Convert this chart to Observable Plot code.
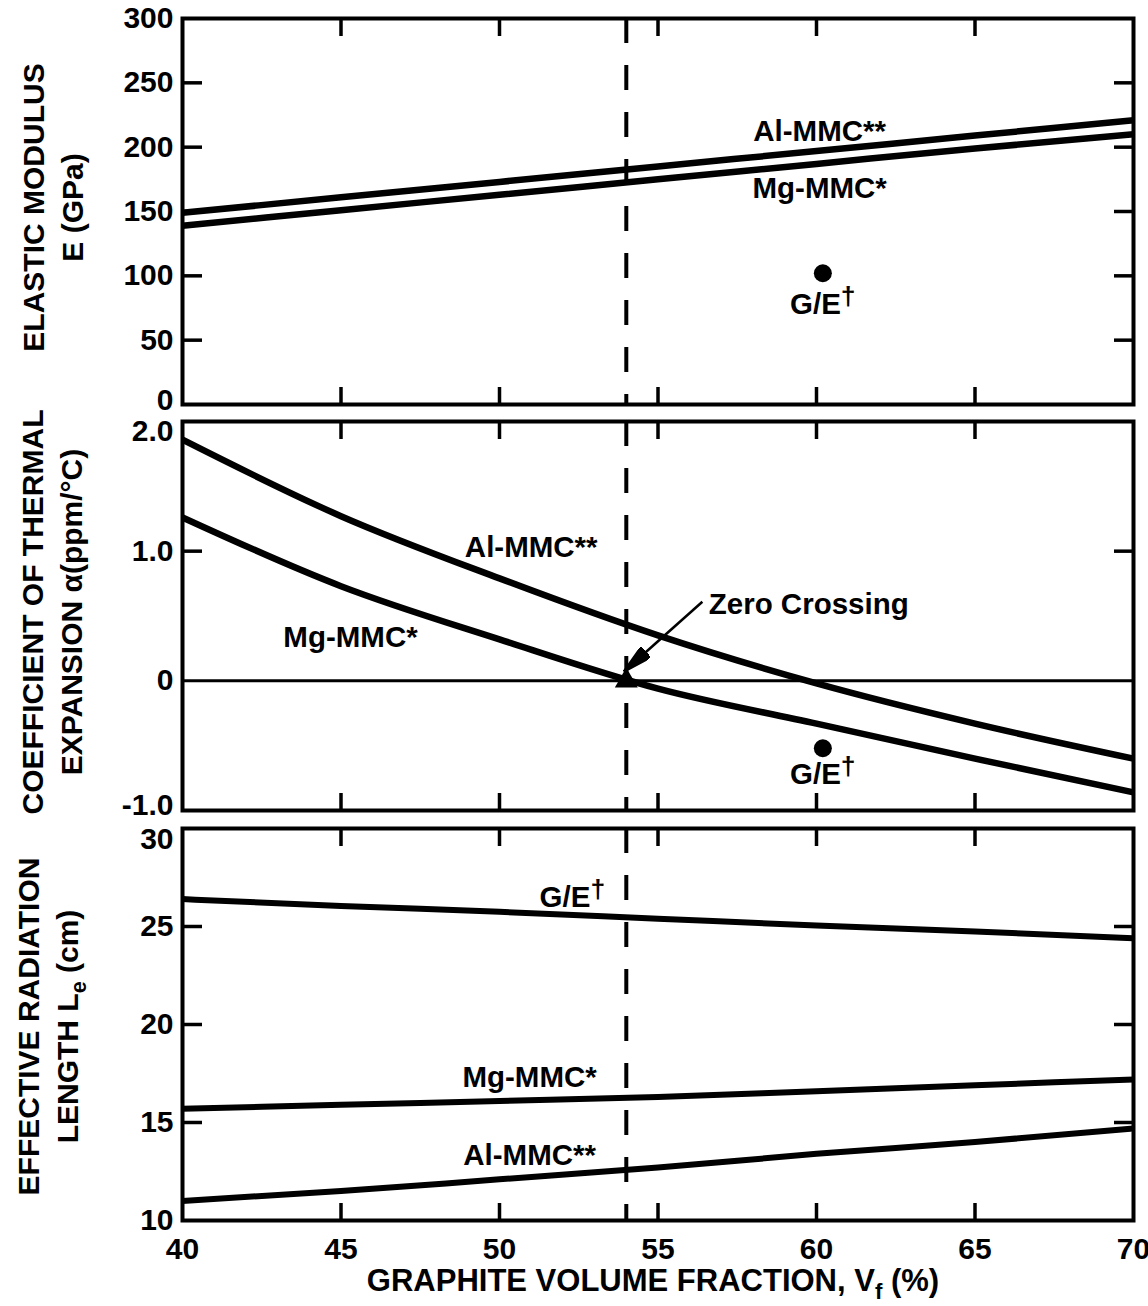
<!DOCTYPE html>
<html><head><meta charset="utf-8">
<script src="https://cdn.jsdelivr.net/npm/d3@7"></script>
<script src="https://cdn.jsdelivr.net/npm/@observablehq/plot@0.6"></script>
<style>
html,body{margin:0;padding:0;background:#fff;overflow:hidden}
#chart svg{display:block}
</style></head><body><div id="chart"></div>
<script>
// ---------- data ----------
const vf = [40, 45, 50, 55, 60, 65, 70];
const modulusAl = [149, 161, 173, 185, 197, 209, 221];
const modulusMg = [139, 151, 163, 175, 187, 199, 210];
const cteAl = [1.86, 1.27, 0.79, 0.35, -0.02, -0.33, -0.60];
const cteMg = [1.26, 0.73, 0.32, -0.06, -0.33, -0.60, -0.86];
const lengthGE = [26.4, 26.05, 25.75, 25.4, 25.05, 24.75, 24.4];
const lengthMg = [15.7, 15.9, 16.1, 16.3, 16.6, 16.9, 17.2];
const lengthAl = [11.0, 11.5, 12.1, 12.7, 13.4, 14.0, 14.7];
const gePoint = [{vf: 60.2, modulus: 102, cte: -0.52}];
const zeroCrossing = [{vf: 54, cte: 0}];
const designVf = [54];

const xTickLabels = [40, 45, 50, 55, 60, 65, 70];
const xInnerTicks = [45, 50, 55, 60, 65];
const modulusTicks = [0, 50, 100, 150, 200, 250, 300];
const cteTicks = [-1, 0, 1, 2];
const lengthTicks = [10, 15, 20, 25, 30];

const titleModulus = "ELASTIC MODULUS\nE (GPa)";
const titleCte = "COEFFICIENT OF THERMAL\nEXPANSION α(ppm/°C)";
const titleLength = "EFFECTIVE RADIATION\nLENGTH L_{e} (cm)";
const titleX = "GRAPHITE VOLUME FRACTION, V_{f} (%)";

// annotations (data coordinates)
const notesModulus = [
  {vf: 60.1, v: 212, text: "Al-MMC**"},
  {vf: 60.1, v: 168, text: "Mg-MMC*"},
  {vf: 60.2, v: 78, text: "G/E^{†}"}
];
const notesCte = [
  {vf: 51.0, v: 1.03, text: "Al-MMC**"},
  {vf: 45.3, v: 0.33, text: "Mg-MMC*"},
  {vf: 60.2, v: -0.72, text: "G/E^{†}"}
];
const noteZero = [{vf: 56.6, v: 0.59, text: "Zero Crossing"}];
const arrowZero = [{x1: 56.4, y1: 0.61, x2: 53.92, y2: 0.07}];
const notesLength = [
  {vf: 52.3, v: 26.5, text: "G/E^{†}"},
  {vf: 50.95, v: 17.3, text: "Mg-MMC*"},
  {vf: 50.95, v: 13.3, text: "Al-MMC**"}
];

// ---------- helpers ----------
const series = (name, ys) => vf.map((x, i) => ({vf: x, value: ys[i], series: name}));
const FONT = "'Liberation Sans', Arial, Helvetica, sans-serif";
const W = 1148, ML = 182, MR = 15;
const FS = 30, TFS = 30, NFS = 29.5;

function common(opts) {
  return Plot.plot({
    width: W, marginLeft: ML, marginRight: MR,
    x: {domain: [40, 70]},
    style: {fontFamily: FONT, fontWeight: "bold", color: "#000", background: "#fff", overflow: "visible"},
    ...opts
  });
}
function inwardTicks(yInner) {
  return [
    Plot.axisX({anchor: "top", ticks: xInnerTicks, tickSize: -17, strokeWidth: 3.5, fill: "none"}),
    Plot.axisX({anchor: "bottom", ticks: xInnerTicks, tickSize: -17, strokeWidth: 3.5, fill: "none"}),
    Plot.axisY({anchor: "left", ticks: yInner, tickSize: -20, strokeWidth: 3.5, fill: "none"}),
    Plot.axisY({anchor: "right", ticks: yInner, tickSize: -20, strokeWidth: 3.5, fill: "none"})
  ];
}
const dashed = () => Plot.ruleX(designVf, {strokeWidth: 4, strokeDasharray: "25,22"});
const yTitle = (t, dx, dy) => Plot.text([t], {text: d => d, frameAnchor: "left", textAnchor: "middle", lineAnchor: "middle", dx, dy, rotate: -90, fontSize: TFS, lineHeight: 1.3});
const notes = (data) => Plot.text(data, {x: "vf", y: "v", text: "text", fontSize: NFS});
const lineOpts = (w) => ({x: "vf", y: "value", z: "series", strokeWidth: w, curve: "monotone-x", strokeLinecap: "butt"});

function arrowHead() {
  const m = d3.create("svg:marker")
    .attr("viewBox", "-30 -7 30 14").attr("markerWidth", 30).attr("markerHeight", 14)
    .attr("markerUnits", "userSpaceOnUse").attr("refX", 0).attr("refY", 0).attr("orient", "auto");
  m.append("path").attr("d", "M0,0L-30,-7L-30,7Z").attr("fill", "black");
  return m.node();
}

// ---------- panel 1 ----------
const p1 = common({
  height: 412, marginTop: 18, marginBottom: 8,
  y: {domain: [0, 300]},
  marks: [
    Plot.frame({strokeWidth: 4}),
    ...inwardTicks([50, 100, 150, 200, 250]),
    Plot.axisY({ticks: modulusTicks.filter(d => d > 0), tickSize: 0, tickPadding: 9, fontSize: FS, label: null}),
    Plot.axisY({ticks: [0], tickSize: 0, tickPadding: 9, fontSize: FS, label: null, dy: -4}),
    dashed(),
    Plot.line([...series("Al", modulusAl), ...series("Mg", modulusMg)], lineOpts(6.5)),
    notes(notesModulus),
    Plot.dot(gePoint, {x: "vf", y: "modulus", r: 9, fill: "black", stroke: "none"}),
    yTitle(titleModulus, -131, -4)
  ]
});

// ---------- panel 2 ----------
const fmtCte = d => d === 0 ? "0" : d.toFixed(1);
const p2 = common({
  height: 407, marginTop: 9, marginBottom: 9,
  y: {domain: [-1, 2]},
  marks: [
    Plot.frame({strokeWidth: 4}),
    ...inwardTicks([1]),
    Plot.ruleY([0], {strokeWidth: 3}),
    Plot.axisY({ticks: [0, 1], tickSize: 0, tickPadding: 9, fontSize: FS, label: null, tickFormat: fmtCte}),
    Plot.axisY({ticks: [-1], tickSize: 0, tickPadding: 9, fontSize: FS, label: null, tickFormat: fmtCte, dy: -5}),
    Plot.axisY({ticks: [2], tickSize: 0, tickPadding: 9, fontSize: FS, label: null, tickFormat: fmtCte, dy: 10}),
    dashed(),
    Plot.line([...series("Al", cteAl), ...series("Mg", cteMg)], lineOpts(6.5)),
    notes(notesCte),
    Plot.text(noteZero, {x: "vf", y: "v", text: "text", fontSize: NFS, textAnchor: "start"}),
    Plot.link(arrowZero, {x1: "x1", y1: "y1", x2: "x2", y2: "y2", strokeWidth: 2.5, markerEnd: arrowHead}),
    Plot.dot(gePoint, {x: "vf", y: "cte", r: 9, fill: "black", stroke: "none"}),
    Plot.dot(zeroCrossing, {x: "vf", y: "cte", symbol: "triangle", r: 8.5, fill: "black", stroke: "none"}),
    yTitle(titleCte, -132, -4)
  ]
});

// ---------- panel 3 ----------
const p3 = common({
  height: 487, marginTop: 9, marginBottom: 86,
  y: {domain: [10, 30]},
  marks: [
    Plot.frame({strokeWidth: 4}),
    ...inwardTicks([15, 20, 25]),
    Plot.axisY({ticks: lengthTicks.filter(d => d < 30), tickSize: 0, tickPadding: 9, fontSize: FS, label: null}),
    Plot.axisY({ticks: [30], tickSize: 0, tickPadding: 9, fontSize: FS, label: null, dy: 11}),
    Plot.axisX({ticks: xTickLabels, tickSize: 0, tickPadding: 17, fontSize: FS, label: null}),
    dashed(),
    Plot.line([...series("GE", lengthGE), ...series("Mg", lengthMg), ...series("Al", lengthAl)], lineOpts(6)),
    notes(notesLength),
    yTitle(titleLength, -136, 2),
    Plot.text([titleX], {text: d => d, frameAnchor: "bottom", lineAnchor: "middle", textAnchor: "middle", dy: 61, dx: -5, fontSize: 31})
  ]
});

const root = document.getElementById("chart");
root.append(p1, p2, p3);

// sub/superscripts written as _{..} and ^{..}
function applyScripts(rootEl) {
  rootEl.querySelectorAll("text, tspan").forEach(node => {
    if (node.children.length) return;
    const s = node.textContent;
    if (!/[_^]\{/.test(s)) return;
    const fs = parseFloat(getComputedStyle(node).fontSize) || FS;
    node.textContent = "";
    let offset = 0;
    for (const part of s.split(/([_^]\{[^}]*\})/)) {
      if (!part) continue;
      const m = part.match(/^([_^])\{([^}]*)\}$/);
      const t = document.createElementNS("http://www.w3.org/2000/svg", "tspan");
      if (m) {
        const sub = m[1] === "_";
        const target = sub ? 0.25 * fs : -0.3 * fs;
        if (target - offset) t.setAttribute("dy", target - offset);
        offset = target;
        t.setAttribute("font-size", (sub ? 0.72 : 0.9) * fs);
        t.textContent = m[2];
      } else {
        if (offset) t.setAttribute("dy", -offset);
        offset = 0;
        t.textContent = part;
      }
      node.appendChild(t);
    }
  });
}
applyScripts(root);
</script></body></html>
